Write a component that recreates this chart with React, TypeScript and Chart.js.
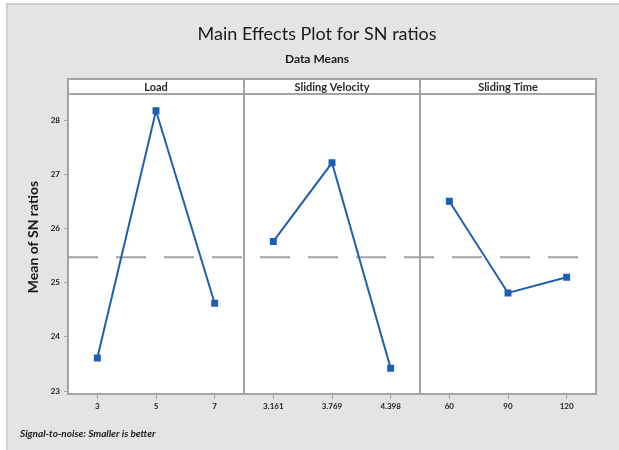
import React, { useEffect, useRef } from "react";
import { Chart, registerables } from "chart.js";

Chart.register(...registerables);

const panels = ["Load", "Sliding Velocity", "Sliding Time"];
const levelLabels = ["3", "5", "7", "3.161", "3.769", "4.398", "60", "90", "120"];
const loadMeans = [23.61, 28.17, 24.62];
const velocityMeans = [25.76, 27.21, 23.42];
const timeMeans = [26.5, 24.81, 25.1];
const yTicks = [23, 24, 25, 26, 27, 28];
const yMin = 22.945;
const yMax = 28.48;

const FONT = "Lato, 'Open Sans', sans-serif";
const LINE = "#1f5fb0";
const FRAME = "#a3a3a3";

function padPanel(vals: number[], idx: number): (number | null)[] {
  const out: (number | null)[] = new Array(9).fill(null);
  vals.forEach((v, i) => (out[idx * 3 + i] = v));
  return out;
}

const allVals = [...loadMeans, ...velocityMeans, ...timeMeans];
const grandMean = allVals.reduce((a, b) => a + b, 0) / allVals.length;

const decorPlugin = {
  id: "decor",
  beforeDraw(chart: any) {
    const { ctx, width, height, chartArea } = chart;
    ctx.save();
    ctx.fillStyle = "#ffffff";
    ctx.fillRect(0, 0, width, height);
    ctx.fillStyle = "#e4e4e4";
    ctx.fillRect(7, 4, width - 7, height - 4);
    ctx.strokeStyle = "#cfcfcf";
    ctx.lineWidth = 2;
    ctx.beginPath();
    ctx.moveTo(7, height);
    ctx.lineTo(7, 4);
    ctx.lineTo(width, 4);
    ctx.stroke();
    ctx.fillStyle = "#ffffff";
    ctx.fillRect(chartArea.left, chartArea.top - 15, chartArea.right - chartArea.left, chartArea.bottom - chartArea.top + 15);
    ctx.restore();
  },
  beforeDatasetsDraw(chart: any) {
    const { ctx, chartArea, scales } = chart;
    const y = scales.y.getPixelForValue(grandMean);
    ctx.save();
    ctx.strokeStyle = FRAME;
    ctx.lineWidth = 2;
    ctx.setLineDash([30, 18]);
    ctx.beginPath();
    ctx.moveTo(chartArea.left, y);
    ctx.lineTo(chartArea.right, y);
    ctx.stroke();
    ctx.restore();
  },
  afterDraw(chart: any) {
    const { ctx, chartArea, scales } = chart;
    const xs = scales.x;
    const bounds = [
      chartArea.left,
      (xs.getPixelForValue(2) + xs.getPixelForValue(3)) / 2,
      (xs.getPixelForValue(5) + xs.getPixelForValue(6)) / 2,
      chartArea.right,
    ];
    const top = chartArea.top - 15;
    ctx.save();
    ctx.strokeStyle = FRAME;
    ctx.lineWidth = 2;
    for (let i = 0; i < 3; i++) {
      const l = bounds[i];
      const r = bounds[i + 1];
      ctx.strokeRect(l, top, r - l, chartArea.bottom - top);
      ctx.beginPath();
      ctx.moveTo(l, chartArea.top);
      ctx.lineTo(r, chartArea.top);
      ctx.stroke();
      ctx.fillStyle = "#2a2a2a";
      ctx.font = `bold 11px ${FONT}`;
      ctx.textAlign = "center";
      ctx.textBaseline = "middle";
      ctx.fillText(panels[i], (l + r) / 2, top + 8);
    }
    // titles
    ctx.fillStyle = "#1a1a1a";
    ctx.textAlign = "center";
    ctx.textBaseline = "middle";
    ctx.font = `18px ${FONT}`;
    ctx.fillText("Main Effects Plot for SN ratios", 317, 34);
    ctx.font = `bold 12px ${FONT}`;
    ctx.fillText("Data Means", 317, 59);
    // y title
    ctx.save();
    ctx.translate(33, 237);
    ctx.rotate(-Math.PI / 2);
    ctx.font = `bold 14px ${FONT}`;
    ctx.fillText("Mean of SN ratios", 0, 0);
    ctx.restore();
    // footnote
    ctx.textAlign = "left";
    ctx.font = `italic bold 10px ${FONT}`;
    ctx.fillText("Signal-to-noise: Smaller is better", 20, 434);
    ctx.restore();
  },
};

export default function App() {
  const ref = useRef<HTMLCanvasElement | null>(null);
  useEffect(() => {
    if (!ref.current) return;
    const mk = (vals: number[], idx: number) => ({
      data: padPanel(vals, idx),
      borderColor: LINE,
      backgroundColor: LINE,
      borderWidth: 2,
      pointRadius: 3.5,
      pointStyle: "rect" as const,
      spanGaps: false,
    });
    const chart = new Chart(ref.current, {
      type: "line",
      data: {
        labels: levelLabels,
        datasets: [mk(loadMeans, 0), mk(velocityMeans, 1), mk(timeMeans, 2)],
      },
      options: {
        animation: false,
        responsive: false,
        devicePixelRatio: 1,
        layout: { padding: { left: 0, right: 23, top: 94, bottom: 0 } },
        plugins: { legend: { display: false }, tooltip: { enabled: false }, title: { display: false } },
        scales: {
          x: {
            type: "category",
            offset: true,
            grid: { offset: false, drawOnChartArea: false, drawTicks: true, tickLength: 5, color: FRAME, lineWidth: 1 },
            border: { display: false },
            ticks: { autoSkip: false, maxRotation: 0, padding: 3, color: "#222", font: { family: FONT, size: 8, weight: "bold" } },
            afterFit: (s: any) => {
              s.height = 56;
            },
          },
          y: {
            min: yMin,
            max: yMax,
            grid: { drawOnChartArea: false, drawTicks: true, tickLength: 4, color: FRAME },
            border: { display: false },
            ticks: { padding: 4, color: "#222", font: { family: FONT, size: 8, weight: "bold" } },
            afterBuildTicks: (s: any) => {
              s.ticks = yTicks.map((v) => ({ value: v }));
            },
            afterFit: (s: any) => {
              s.width = 68;
            },
          },
        },
      },
      plugins: [decorPlugin],
    });
    return () => chart.destroy();
  }, []);
  return (
    <div style={{ position: "fixed", left: 0, top: 0, width: 619, height: 450 }}>
      <canvas ref={ref} width={619} height={450} />
    </div>
  );
}
